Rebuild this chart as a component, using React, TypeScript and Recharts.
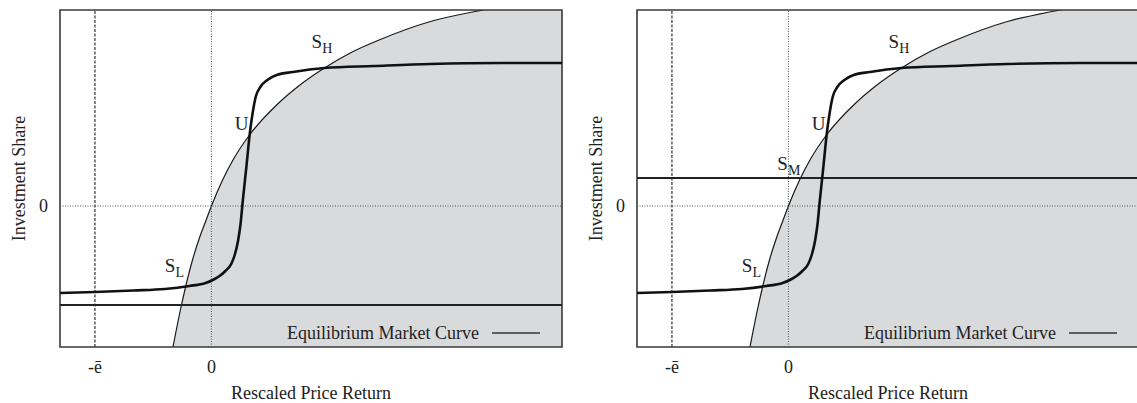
import React from "react";
import {
  ComposedChart,
  Area,
  Line,
  XAxis,
  YAxis,
  ReferenceLine,
  ReferenceArea,
  ReferenceDot,
  Legend,
} from "recharts";

// axis ranges (rescaled units, -ē = -1)
const X_DOMAIN: [number, number] = [-1.3, 3.01];
const Y_DOMAIN: [number, number] = [-1.41, 1.96];
const xTicks = [-1, 0];
const xTickLabels = ["-ē", "0"];
const yTicks = [0];
const yTickLabels = ["0"];

// equilibrium market curve (shaded region lies below / right of it)
const equilibriumX = [-0.33, -0.27, -0.22, -0.16, -0.1, -0.05, 0, 0.1, 0.19, 0.33, 0.56, 0.76, 0.97, 1.2, 1.45, 1.88, 2.33, 2.7, 3.01];
const equilibriumY = [-1.41, -1.06, -0.8, -0.53, -0.31, -0.155, 0, 0.27, 0.47, 0.715, 1.01, 1.21, 1.38, 1.535, 1.665, 1.845, 1.96, 2.04, 2.1];

// investment share response curve (same in both panels)
const responseX = [-1.3, -1.0, -0.67, -0.4, -0.19, -0.05, 0.02, 0.07, 0.12, 0.17, 0.2, 0.23, 0.25, 0.27, 0.3, 0.33, 0.35, 0.38, 0.42, 0.48, 0.56, 0.7, 0.97, 1.4, 1.88, 2.5, 3.01];
const responseY = [-0.87, -0.86, -0.845, -0.83, -0.8, -0.77, -0.735, -0.7, -0.65, -0.58, -0.49, -0.34, -0.18, 0.06, 0.39, 0.73, 0.9, 1.09, 1.19, 1.26, 1.31, 1.34, 1.38, 1.4, 1.42, 1.43, 1.43];

// horizontal line level in each panel
const flatLevels = [-0.99, 0.28];

const legendLabel = "Equilibrium Market Curve";
const xTitle = "Rescaled Price Return";
const yTitle = "Investment Share";

// point annotations: main letter, subscript, text anchor position (data units)
const leftPointLabels = [
  { main: "S", sub: "H", x: 0.86, y: 1.58 },
  { main: "U", sub: "", x: 0.2, y: 0.76 },
  { main: "S", sub: "L", x: -0.4, y: -0.66 },
];
const rightPointLabels = [
  { main: "S", sub: "H", x: 0.86, y: 1.58 },
  { main: "U", sub: "", x: 0.2, y: 0.76 },
  { main: "S", sub: "M", x: -0.095, y: 0.36 },
  { main: "S", sub: "L", x: -0.4, y: -0.66 },
];

const eqData = equilibriumX.map((x, i) => ({ x, y: equilibriumY[i] }));
const respData = responseX.map((x, i) => ({ x, y: responseY[i] }));

const FONT = "'Liberation Serif', 'Times New Roman', serif";
const INK = "#1a1a1a";
const W = 575;
const H = 403;
const M = { top: 10, right: 13, bottom: 0, left: 0 };
const X_AXIS_H = 56;
const Y_AXIS_W = 60;

function LegendKey() {
  return (
    <svg width={260} height={20} style={{ display: "block" }}>
      <text x={0} y={15} fontSize={18} fontFamily={FONT} fill="#222">
        {legendLabel}
      </text>
      <line x1={205} x2={253} y1={9} y2={9} stroke="#333" strokeWidth={1.3} />
    </svg>
  );
}

function Panel({ level, labels }: { level: number; labels: typeof leftPointLabels }) {
  const plotH = H - M.top - M.bottom - X_AXIS_H;
  const plotW = W - M.left - M.right - Y_AXIS_W;
  return (
    <ComposedChart width={W} height={H} margin={M} style={{ fontFamily: FONT }}>
      <XAxis
        type="number"
        dataKey="x"
        domain={X_DOMAIN}
        allowDataOverflow
        ticks={xTicks}
        tickFormatter={(v) => xTickLabels[xTicks.indexOf(v)] ?? ""}
        axisLine={false}
        tickLine={false}
        tickSize={0}
        tickMargin={13}
        height={X_AXIS_H}
        tick={{ fontSize: 18, fill: "#222", fontFamily: FONT }}
        label={{
          content: () => (
            <text x={Y_AXIS_W + plotW / 2} y={399} textAnchor="middle" fontSize={18} fontFamily={FONT} fill="#222">
              {xTitle}
            </text>
          ),
        }}
      />
      <YAxis
        type="number"
        domain={Y_DOMAIN}
        allowDataOverflow
        ticks={yTicks}
        tickFormatter={(v) => yTickLabels[yTicks.indexOf(v)] ?? ""}
        axisLine={false}
        tickLine={false}
        tickSize={0}
        tickMargin={12}
        width={Y_AXIS_W}
        tick={{ fontSize: 18, fill: "#222", fontFamily: FONT }}
        label={{
          content: () => {
            const cy = M.top + plotH / 2;
            return (
              <text
                x={25}
                y={cy}
                transform={`rotate(-90, 25, ${cy})`}
                textAnchor="middle"
                fontSize={18}
                fontFamily={FONT}
                fill="#222"
              >
                {yTitle}
              </text>
            );
          },
        }}
      />
      <Area
        data={eqData}
        dataKey="y"
        type="monotone"
        baseValue={Y_DOMAIN[0]}
        fill="#d9dadc"
        fillOpacity={1}
        stroke={INK}
        strokeWidth={1.2}
        isAnimationActive={false}
        dot={false}
        activeDot={false}
      />
      <ReferenceLine x={xTicks[0]} stroke="#333" strokeWidth={1.2} strokeDasharray="3 1.5" />
      <ReferenceLine x={0} stroke="#555" strokeWidth={1} strokeDasharray="1 1.5" />
      <ReferenceLine y={0} stroke="#555" strokeWidth={1} strokeDasharray="1 1.5" />
      <ReferenceLine y={level} stroke="#222" strokeWidth={2} />
      <Line
        data={respData}
        dataKey="y"
        type="monotone"
        stroke="#111"
        strokeWidth={2.6}
        dot={false}
        activeDot={false}
        isAnimationActive={false}
      />
      <ReferenceArea
        x1={X_DOMAIN[0]}
        x2={X_DOMAIN[1]}
        y1={Y_DOMAIN[0]}
        y2={Y_DOMAIN[1]}
        fill="none"
        stroke="#3a3a3a"
        strokeWidth={1.6}
      />
      {labels.map((p, i) => (
        <ReferenceDot
          key={i}
          x={p.x}
          y={p.y}
          r={0}
          fill="none"
          stroke="none"
          label={{
            content: ({ viewBox }: any) => (
              <text x={viewBox?.x ?? 0} y={viewBox?.y ?? 0} fontSize={19} fontFamily={FONT} fill="#222">
                {p.main}
                {p.sub ? (
                  <tspan fontSize={14} dy={5}>
                    {p.sub}
                  </tspan>
                ) : null}
              </text>
            ),
          }}
        />
      ))}
      <Legend
        layout="horizontal"
        verticalAlign="middle"
        align="center"
        content={() => <LegendKey />}
        wrapperStyle={{ position: "absolute", left: 287, top: 324, width: 260, height: 20 }}
      />
    </ComposedChart>
  );
}

export default function App() {
  return (
    <div
      style={{
        position: "absolute",
        left: 0,
        top: 0,
        width: 1137,
        height: 403,
        overflow: "hidden",
        background: "#fff",
        fontFamily: FONT,
      }}
    >
      <div style={{ position: "absolute", left: 0, top: 0 }}>
        <Panel level={flatLevels[0]} labels={leftPointLabels} />
      </div>
      <div style={{ position: "absolute", left: 577, top: 0 }}>
        <Panel level={flatLevels[1]} labels={rightPointLabels} />
      </div>
    </div>
  );
}
